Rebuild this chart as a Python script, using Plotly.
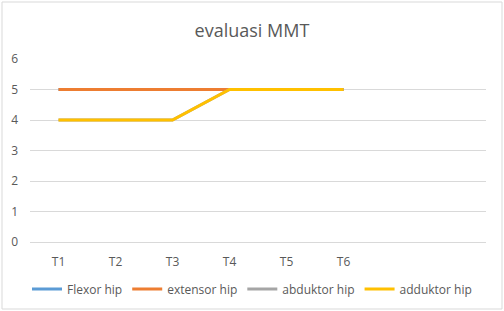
import plotly.graph_objects as go

categories = ["T1", "T2", "T3", "T4", "T5", "T6"]
n_slots = 8  # axis has two empty category slots after T6
flexor_hip = [5, 5, 5, 5, 5, 5]
extensor_hip = [5, 5, 5, 5, 5, 5]
abduktor_hip = [4, 4, 4, 5, 5, 5]
adduktor_hip = [4, 4, 4, 5, 5, 5]

series = [
    ("Flexor hip", flexor_hip, "#5B9BD5"),
    ("extensor hip", extensor_hip, "#ED7D31"),
    ("abduktor hip", abduktor_hip, "#A5A5A5"),
    ("adduktor hip", adduktor_hip, "#FFC000"),
]

W, H = 504, 311
L, R, T, B = 30, 18, 59, 69

fig = go.Figure()
xs = list(range(len(categories)))
for name, vals, col in series:
    fig.add_trace(go.Scatter(x=xs, y=vals, mode="lines", name=name,
                             line=dict(color=col, width=3)))

font_fam = "Open Sans, Liberation Sans, sans-serif"
fig.update_layout(
    width=W, height=H,
    margin=dict(l=L, r=R, t=T, b=B, autoexpand=False),
    paper_bgcolor="white", plot_bgcolor="white",
    font=dict(family=font_fam, color="#595959", size=12),
    title=dict(text="evaluasi MMT", x=0.5, xanchor="center", y=1 - 31 / H, yanchor="middle",
               font=dict(size=18, color="#595959", family=font_fam)),
    xaxis=dict(tickmode="array", tickvals=xs, ticktext=categories,
               range=[-0.5, n_slots - 0.5], showgrid=False, zeroline=False,
               showline=False, ticks="", ticklabelstandoff=11, tickfont=dict(size=12)),
    yaxis=dict(range=[0, 6], dtick=1, showgrid=True, gridcolor="#D9D9D9", gridwidth=1,
               zeroline=True, zerolinecolor="#D9D9D9", zerolinewidth=1,
               showline=False, ticks="", ticklabelstandoff=11, tickfont=dict(size=12)),
    legend=dict(orientation="h", x=0.5, xanchor="center", xref="container",
                y=1 - 289 / H, yref="container",
                yanchor="middle", font=dict(size=12, color="#595959"),
                itemwidth=30, tracegroupgap=0, bgcolor="rgba(0,0,0,0)"),
    showlegend=True,
)

pw = W - L - R
ph = H - T - B
fig.add_shape(type="rect", xref="paper", yref="paper",
              x0=(2 - L) / pw, x1=(W - 2 - L) / pw,
              y0=-(H - 2 - (H - B)) / ph, y1=1 + (T - 2) / ph,
              line=dict(color="#D9D9D9", width=1), fillcolor="rgba(0,0,0,0)", layer="below")

fig.write_html("out.html")
